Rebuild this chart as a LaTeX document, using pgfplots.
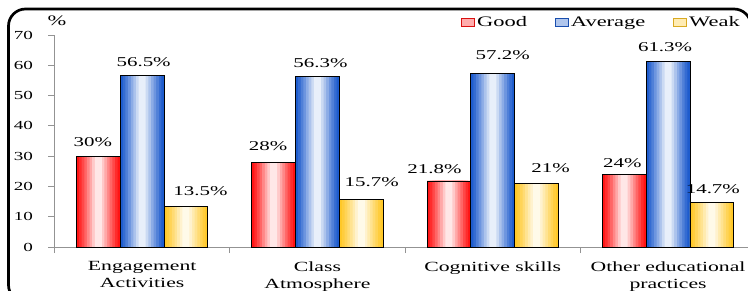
\documentclass[border=0pt]{standalone}
\usepackage{pgfplots}
\pgfplotsset{compat=1.18}
\usepackage{fontspec}
\setmainfont{Liberation Serif}[FakeStretch=1.55]
\definecolor{cred}{RGB}{255,20,20}
\definecolor{cblue}{RGB}{30,92,205}
\definecolor{cyel}{RGB}{255,200,40}

\newcommand{\layers}[3]{%
\addplot[ybar, forget plot, draw=none, bar shift=#2, bar width=0.25, fill=#1] table[row sep=\\] {#3};
\addplot[ybar, forget plot, draw=none, bar shift=#2, bar width=0.22, fill=#1!90!white] table[row sep=\\] {#3};
\addplot[ybar, forget plot, draw=none, bar shift=#2, bar width=0.19, fill=#1!78!white] table[row sep=\\] {#3};
\addplot[ybar, forget plot, draw=none, bar shift=#2, bar width=0.16, fill=#1!65!white] table[row sep=\\] {#3};
\addplot[ybar, forget plot, draw=none, bar shift=#2, bar width=0.13, fill=#1!51!white] table[row sep=\\] {#3};
\addplot[ybar, forget plot, draw=none, bar shift=#2, bar width=0.10, fill=#1!37!white] table[row sep=\\] {#3};
\addplot[ybar, forget plot, draw=none, bar shift=#2, bar width=0.07, fill=#1!23!white] table[row sep=\\] {#3};
\addplot[ybar, forget plot, draw=none, bar shift=#2, bar width=0.04, fill=#1!10!white] table[row sep=\\] {#3};
}

\begin{document}
\begin{tikzpicture}
\useasboundingbox (0pt,0pt) rectangle (748pt,290pt);
\begin{axis}[
  at={(54.5pt,43pt)}, anchor=south west, scale only axis,
  width=693.5pt, height=212pt,
  xmin=-0.5, xmax=3.456, ymin=0, ymax=70,
  axis x line*=bottom, axis y line*=left,
  axis line style={draw=gray!85, line width=0.8pt},
  tick align=outside, major tick length=6pt,
  tick style={draw=gray!85, line width=0.8pt},
  ytick={0,10,...,70},
  yticklabel style={font=\fontsize{12.3}{14}\selectfont, anchor=east, xshift=-12pt},
  xtick={-0.5,0.5,1.5,2.5}, xticklabels={},
  extra x ticks={0,1,2,3},
  extra x tick labels={{Engagement\\Activities},{Class\\Atmosphere},{Cognitive skills},{Other educational\\practices}},
  extra x tick style={major tick length=0pt, xticklabel style={font=\fontsize{14}{17}\selectfont, align=center, anchor=north, yshift=-11pt}},
  /pgf/number format/assume math mode=true,
  point meta=y,
  visualization depends on={value \thisrow{dx} \as \dx},
  visualization depends on={value \thisrow{dy} \as \dy},
  every node near coord/.append style={font=\fontsize{13.5}{16}\selectfont, anchor=center, xshift=\dx pt, yshift=\dy pt, text=black},
  legend columns=3,
  legend cell align=left,
  legend style={draw=none, fill=none, at={(0.9957,1.061)}, anchor=east, font=\fontsize{14.5}{16}\selectfont, /tikz/every even column/.append style={column sep=26pt}},
]
\layers{cred}{-0.25}{x y dx dy\\ 0 30 -49.3 14\\ 1 28 -49.3 16\\ 2 21.8 -58.3 11.5\\ 3 24 -45.8 11.5\\}
\layers{cblue}{0}{x y dx dy\\ 0 56.5 1.5 13.5\\ 1 56.3 3 13.5\\ 2 57.2 10 19\\ 3 61.3 -3 14\\}
\layers{cyel}{0.25}{x y dx dy\\ 0 13.5 58.3 15\\ 1 15.7 54.3 17.5\\ 2 21 57.8 15.5\\ 3 14.7 44.8 13\\}
\addplot[ybar, bar shift=-0.25, bar width=0.25, draw=black, line width=0.8pt, fill=none,
  nodes near coords={\pgfmathprintnumber{\pgfplotspointmeta}\%},
  legend image code/.code={\draw[draw=cred!85!black, line width=0.8pt, fill=cred!35!white] (0pt,-4pt) rectangle (13pt,4pt);}] table {
x y dx dy
0 30 -49.3 14
1 28 -49.3 16
2 21.8 -58.3 11.5
3 24 -45.8 11.5
};
\addlegendentry{Good}
\addplot[ybar, bar shift=0, bar width=0.25, draw=black, line width=0.8pt, fill=none,
  nodes near coords={\pgfmathprintnumber{\pgfplotspointmeta}\%},
  legend image code/.code={\draw[draw=cblue!85!black, line width=0.8pt, fill=cblue!35!white] (0pt,-4pt) rectangle (13pt,4pt);}] table {
x y dx dy
0 56.5 1.5 13.5
1 56.3 3 13.5
2 57.2 10 19
3 61.3 -3 14
};
\addlegendentry{Average}
\addplot[ybar, bar shift=0.25, bar width=0.25, draw=black, line width=0.8pt, fill=none,
  nodes near coords={\pgfmathprintnumber{\pgfplotspointmeta}\%},
  legend image code/.code={\draw[draw=cyel!85!black, line width=0.8pt, fill=cyel!35!white] (0pt,-4pt) rectangle (13pt,4pt);}] table {
x y dx dy
0 13.5 58.3 15
1 15.7 54.3 17.5
2 21 57.8 15.5
3 14.7 44.8 13
};
\addlegendentry{Weak}
\end{axis}
\node[font=\fontsize{14.5}{16}\selectfont] at (57pt,269pt) {\%};
\draw[line width=2.7pt, rounded corners=17pt] (8.5pt,-12pt) rectangle (751pt,281pt);
\end{tikzpicture}
\end{document}
